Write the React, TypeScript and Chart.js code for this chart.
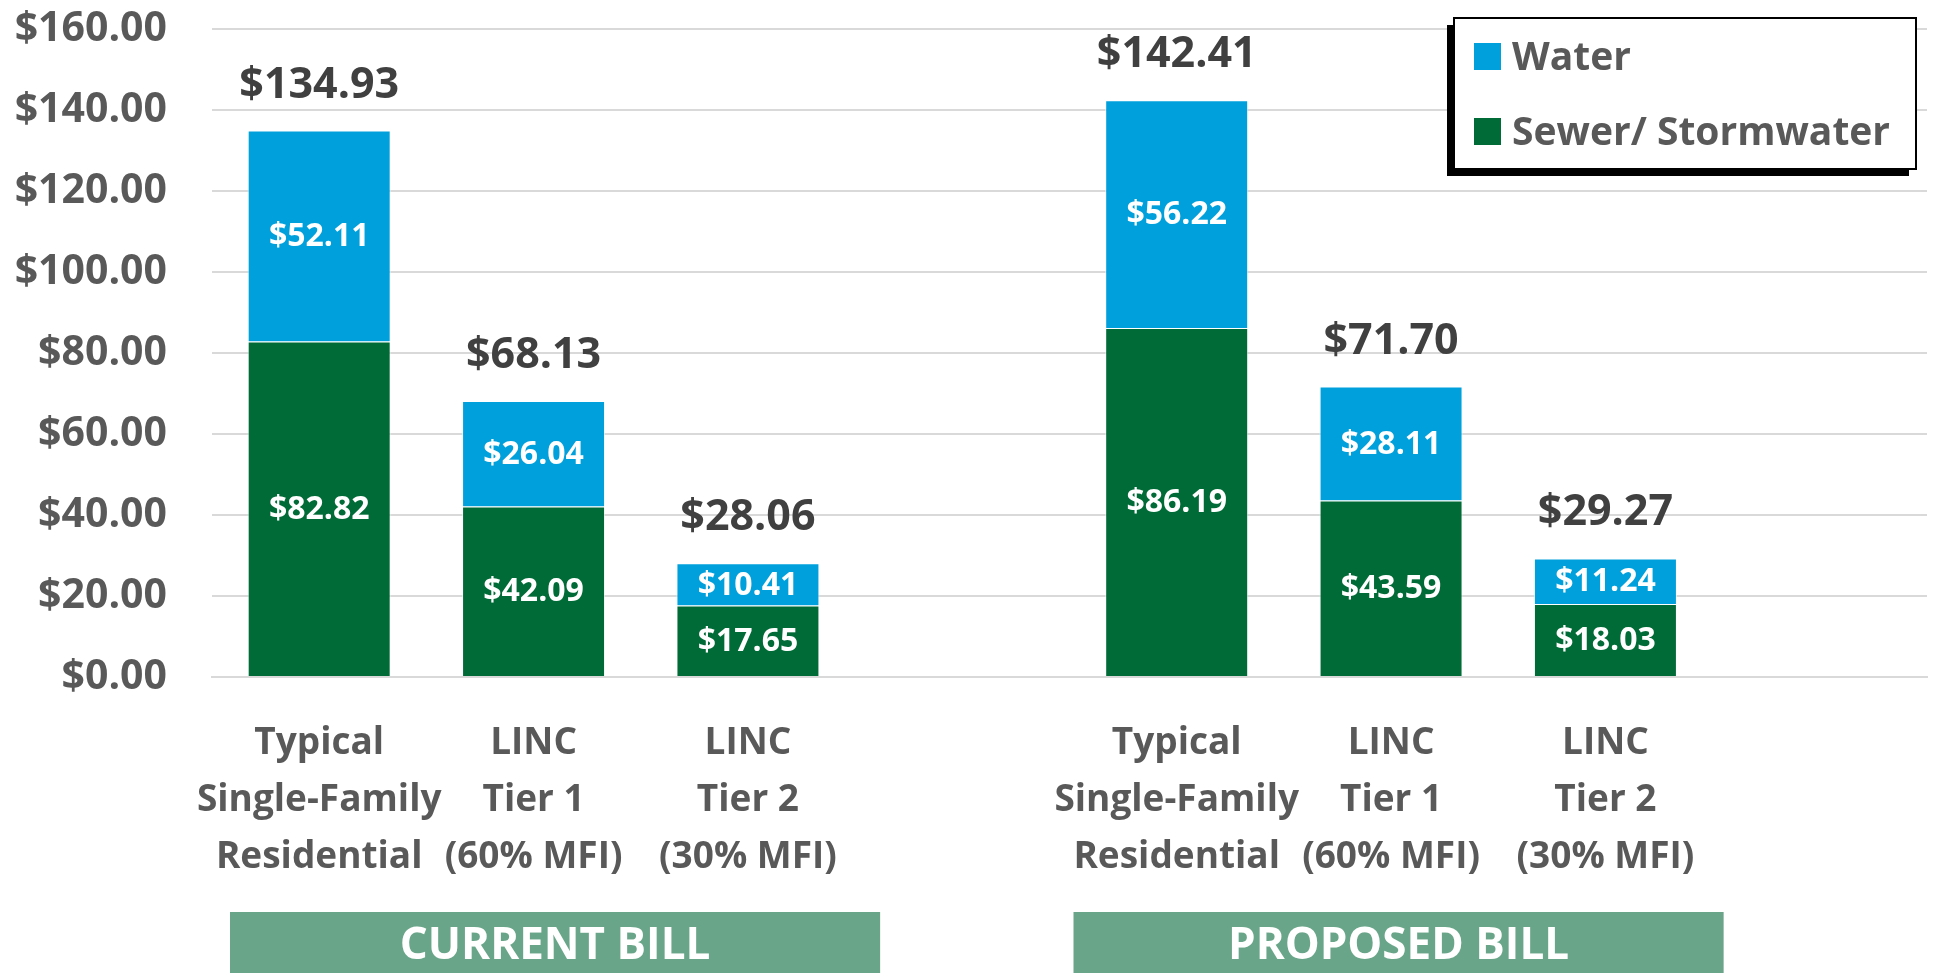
import React, { useEffect, useRef } from "react";
import { Chart, registerables } from "chart.js";

Chart.register(...registerables);

const categories: (string | string[])[] = [
  ["Typical", "Single-Family", "Residential"],
  ["LINC", "Tier 1", "(60% MFI)"],
  ["LINC", "Tier 2", "(30% MFI)"],
  "",
  ["Typical", "Single-Family", "Residential"],
  ["LINC", "Tier 1", "(60% MFI)"],
  ["LINC", "Tier 2", "(30% MFI)"],
  "",
];
const sewerValues: (number | null)[] = [82.82, 42.09, 17.65, null, 86.19, 43.59, 18.03, null];
const waterValues: (number | null)[] = [52.11, 26.04, 10.41, null, 56.22, 28.11, 11.24, null];
const totalValues: (number | null)[] = [134.93, 68.13, 28.06, null, 142.41, 71.7, 29.27, null];
const groupLabels = ["CURRENT BILL", "PROPOSED BILL"];
const groupStart = [0, 4];
const legendLabels = ["Water", "Sewer/ Stormwater"];

const WATER = "#00A0DC";
const SEWER = "#006B37";
const FONT = "'Open Sans', 'Noto Sans', sans-serif";
const money = (v: number) => "$" + v.toFixed(2);

const overlayPlugin = {
  id: "overlay",
  afterDatasetsDraw(chart: any) {
    const ctx = chart.ctx;
    const sewerMeta = chart.getDatasetMeta(0);
    const waterMeta = chart.getDatasetMeta(1);
    ctx.save();
    ctx.textAlign = "center";
    ctx.fillStyle = "#ffffff";
    ctx.font = `bold 32px ${FONT}`;
    ctx.textBaseline = "middle";
    [sewerMeta, waterMeta].forEach((meta: any, di: number) => {
      const vals = di === 0 ? sewerValues : waterValues;
      meta.data.forEach((el: any, i: number) => {
        const v = vals[i];
        if (v == null) return;
        ctx.fillText(money(v), el.x, (el.y + el.base) / 2 + 1);
      });
    });
    ctx.fillStyle = "#404040";
    ctx.font = `bold 43px ${FONT}`;
    ctx.textBaseline = "alphabetic";
    waterMeta.data.forEach((el: any, i: number) => {
      const t = totalValues[i];
      if (t == null) return;
      ctx.fillText(money(t), el.x, el.y - 33);
    });
    ctx.restore();
  },
  afterDraw(chart: any) {
    const ctx = chart.ctx;
    const xs = chart.scales.x;
    ctx.save();
    const half = (xs.getPixelForValue(1) - xs.getPixelForValue(0)) / 2;
    const offsets = [18, 4];
    groupStart.forEach((s, gi) => {
      const left = xs.getPixelForValue(s) - half + offsets[gi];
      const w = half * 2 * 3 + 7;
      ctx.fillStyle = "#69A588";
      ctx.fillRect(left, 912, w, 61);
      ctx.fillStyle = "#ffffff";
      ctx.font = `bold 44px ${FONT}`;
      ctx.textAlign = "center";
      ctx.textBaseline = "middle";
      ctx.fillText(groupLabels[gi], left + w / 2, 946);
    });
    const bx = 1454, by = 18, bw = 462, bh = 151;
    ctx.fillStyle = "#000000";
    ctx.fillRect(bx - 7, by + 7, bw, bh);
    ctx.fillStyle = "#ffffff";
    ctx.fillRect(bx, by, bw, bh);
    ctx.strokeStyle = "#000000";
    ctx.lineWidth = 2;
    ctx.strokeRect(bx, by, bw, bh);
    const colors = [WATER, SEWER];
    ctx.font = `bold 39px ${FONT}`;
    ctx.textAlign = "left";
    ctx.textBaseline = "alphabetic";
    legendLabels.forEach((lbl, i) => {
      const y = 43 + i * 75;
      ctx.fillStyle = colors[i];
      ctx.fillRect(1474, y, 27, 27);
      ctx.fillStyle = "#595959";
      ctx.fillText(lbl, 1512, y + 27);
    });
    ctx.restore();
  },
};

export default function App() {
  const ref = useRef<HTMLCanvasElement | null>(null);
  useEffect(() => {
    document.body.style.margin = "0";
    document.body.style.overflow = "hidden";
    if (!ref.current) return;
    const chart = new Chart(ref.current, {
      type: "bar",
      data: {
        labels: categories,
        datasets: [
          {
            label: legendLabels[1],
            data: sewerValues,
            backgroundColor: SEWER,
            borderColor: "rgba(255,255,255,0.6)",
            borderWidth: 1,
            categoryPercentage: 1,
            barPercentage: 0.667,
          },
          {
            label: legendLabels[0],
            data: waterValues,
            backgroundColor: WATER,
            borderColor: "rgba(255,255,255,0.6)",
            borderWidth: 1,
            categoryPercentage: 1,
            barPercentage: 0.667,
          },
        ],
      },
      options: {
        animation: false,
        responsive: false,
        maintainAspectRatio: false,
        layout: { padding: { left: 0, right: 6, top: 29, bottom: 0 } },
        plugins: { legend: { display: false }, tooltip: { enabled: false } },
        scales: {
          x: {
            stacked: true,
            grid: { display: false, drawTicks: false },
            border: { display: true, color: "#D9D9D9", width: 2 },
            ticks: {
              autoSkip: false,
              maxRotation: 0,
              minRotation: 0,
              padding: 38,
              color: "#595959",
              font: { family: FONT, weight: "bold", size: 37, lineHeight: 1.54 },
            },
            afterFit(scale: any) {
              scale.height = 296;
              scale.paddingLeft = 0;
              scale.paddingRight = 0;
            },
          },
          y: {
            stacked: true,
            min: 0,
            max: 160,
            grid: { color: "#D9D9D9", lineWidth: 2, drawTicks: false },
            border: { display: false },
            ticks: {
              stepSize: 20,
              padding: 45,
              color: "#595959",
              font: { family: FONT, weight: "bold", size: 41 },
              callback: (v: any) => money(Number(v)),
            },
            afterFit(scale: any) {
              scale.width = 212;
              scale.paddingTop = 0;
              scale.paddingBottom = 0;
            },
          },
        },
      },
      plugins: [overlayPlugin],
    });
    return () => chart.destroy();
  }, []);
  return (
    <div style={{ position: "absolute", left: 0, top: 0, width: 1933, height: 973 }}>
      <canvas ref={ref} width={1933} height={973} style={{ width: 1933, height: 973 }} />
    </div>
  );
}
